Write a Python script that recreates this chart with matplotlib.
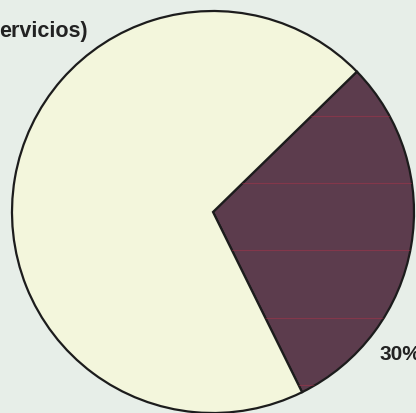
import matplotlib.pyplot as plt
import numpy as np

# slice shares (percent), dark slice first
labels = ['30%', '']
shares = [30, 70]
colors = ['#5c3c4d', '#f3f6dc']
title_text = 'ervicios)'

# layout (pixels in a 416x413 canvas, y up)
W, H = 416, 413
cx, cy, r = 213, H - 212, 201
start = -63.7

fig = plt.figure(figsize=(W / 100, H / 100), dpi=100)
fig.patch.set_facecolor('#e7eee8')
ax = fig.add_axes([0, 0, 1, 1])

wedges, _ = ax.pie(shares, colors=colors, startangle=start, counterclock=True,
                   center=(cx, cy), radius=r, frame=True,
                   wedgeprops=dict(edgecolor='#1c1c1c', linewidth=1.6))
ax.set_xlim(0, W)
ax.set_ylim(0, H)
ax.axis('off')

# faint red scan lines across the dark slice
for y in [116, 183, 250, 318, 385]:
    ln, = ax.plot([cx, cx + r], [H - y, H - y], color='#c0304a', lw=0.8, alpha=0.4)
    ln.set_clip_path(wedges[0])

ax.text(-1, H - 32, title_text, fontsize=15.5, fontweight='bold', color='#222222',
        family='Liberation Sans', va='center', ha='left')
ax.text(380, H - 354, labels[0], fontsize=15, fontweight='bold', color='#222222',
        family='Liberation Sans', va='center', ha='left')

fig.savefig('out.png', dpi=100, facecolor=fig.get_facecolor())
